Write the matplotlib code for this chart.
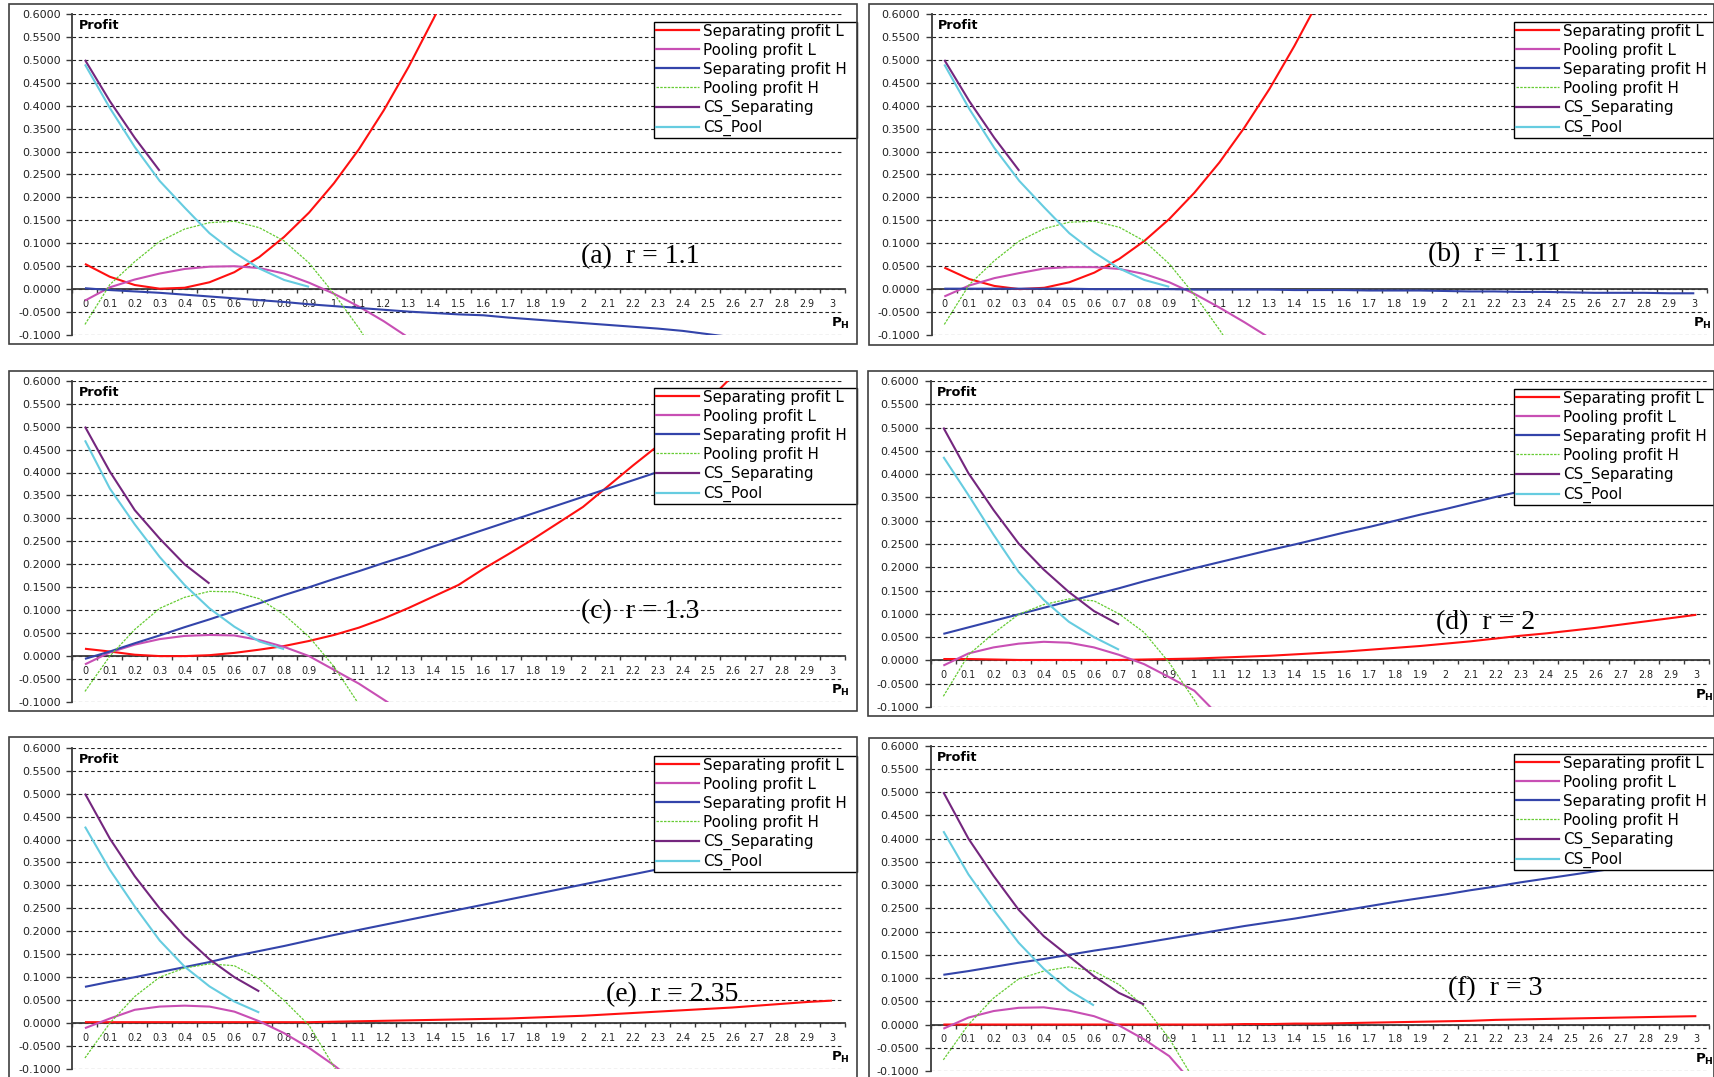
import numpy as np
import matplotlib
matplotlib.use("Agg")
import matplotlib.pyplot as plt
from matplotlib.patches import Rectangle
from matplotlib.lines import Line2D

plt.rcParams['font.family'] = ['DejaVu Sans']
plt.rcParams['axes.unicode_minus'] = False

# ---------------- data ----------------
ph_values = [0.0, 0.1, 0.2, 0.3, 0.4, 0.5, 0.6, 0.7, 0.8, 0.9, 1.0, 1.1, 1.2, 1.3, 1.4, 1.5,
             1.6, 1.7, 1.8, 1.9, 2.0, 2.1, 2.2, 2.3, 2.4, 2.5, 2.6, 2.7, 2.8, 2.9, 3.0]
y_tick_values = [-0.10, -0.05, 0.00, 0.05, 0.10, 0.15, 0.20, 0.25, 0.30, 0.35, 0.40, 0.45, 0.50, 0.55, 0.60]
series_names = ["Separating profit L", "Pooling profit L", "Separating profit H",
                "Pooling profit H", "CS_Separating", "CS_Pool"]
panel_labels = ["(a)  r = 1.1", "(b)  r = 1.11", "(c)  r = 1.3",
                "(d)  r = 2", "(e)  r = 2.35", "(f)  r = 3"]

# (a) r = 1.1
a_sep_L = [0.055, 0.027, 0.009, 0.001, 0.003, 0.015, 0.037, 0.070, 0.114, 0.167, 0.231, 0.305, 0.390, 0.485, 0.590, 0.700]
a_pool_L = [-0.025, 0.004, 0.021, 0.034, 0.044, 0.049, 0.050, 0.046, 0.034, 0.014, -0.010, -0.038, -0.070, -0.106]
a_sep_H = [0.002, -0.002, -0.005, -0.008, -0.012, -0.016, -0.020, -0.024, -0.028, -0.033, -0.037, -0.041, -0.045, -0.049,
           -0.052, -0.055, -0.057, -0.062, -0.066, -0.070, -0.074, -0.078, -0.082, -0.086, -0.091, -0.098, -0.105]
a_pool_H = [-0.077, 0.010, 0.060, 0.104, 0.131, 0.145, 0.148, 0.134, 0.105, 0.057, -0.010, -0.085, -0.170]
a_cs_sep = [0.500, 0.410, 0.330, 0.258]
a_cs_pool = [0.490, 0.395, 0.310, 0.236, 0.178, 0.122, 0.080, 0.045, 0.020, 0.005]

# (b) r = 1.11
b_sep_L = [0.047, 0.022, 0.007, 0.000, 0.003, 0.015, 0.036, 0.066, 0.105, 0.153, 0.210, 0.276, 0.352, 0.436, 0.530, 0.632]
b_pool_L = [-0.016, 0.008, 0.024, 0.035, 0.045, 0.048, 0.048, 0.044, 0.033, 0.015, -0.010, -0.040, -0.072, -0.106]
b_sep_H = [0.001, 0.001, 0.001, 0.001, 0.001, 0.001, 0.000, 0.000, 0.000, 0.000, -0.001, -0.001, -0.001, -0.001, -0.002,
           -0.002, -0.002, -0.003, -0.003, -0.003, -0.004, -0.005, -0.005, -0.006, -0.006, -0.007, -0.008, -0.008,
           -0.008, -0.009, -0.009]
b_pool_H = [-0.077, 0.010, 0.062, 0.105, 0.132, 0.146, 0.148, 0.135, 0.105, 0.055, -0.012, -0.088, -0.170]
b_cs_sep = [0.500, 0.410, 0.330, 0.258]
b_cs_pool = [0.490, 0.393, 0.308, 0.236, 0.178, 0.122, 0.080, 0.045, 0.020, 0.005]

# (c) r = 1.3
c_sep_L = [0.016, 0.010, 0.003, 0.000, 0.000, 0.002, 0.007, 0.014, 0.022, 0.033, 0.046, 0.062, 0.082, 0.105, 0.130,
           0.155, 0.190, 0.222, 0.255, 0.290, 0.325, 0.370, 0.415, 0.458, 0.505, 0.555, 0.610, 0.670]
c_pool_L = [-0.018, 0.008, 0.025, 0.037, 0.044, 0.046, 0.045, 0.035, 0.020, 0.000, -0.030, -0.060, -0.095, -0.130]
c_sep_H = [-0.006, 0.010, 0.028, 0.045, 0.063, 0.080, 0.098, 0.115, 0.133, 0.150, 0.168, 0.185, 0.203, 0.220, 0.239,
           0.257, 0.275, 0.293, 0.311, 0.329, 0.347, 0.365, 0.383, 0.401, 0.419, 0.437, 0.455, 0.473, 0.491, 0.509, 0.527]
c_pool_H = [-0.077, 0.000, 0.058, 0.104, 0.128, 0.141, 0.140, 0.125, 0.090, 0.042, -0.023, -0.105]
c_cs_sep = [0.500, 0.402, 0.318, 0.256, 0.200, 0.158]
c_cs_pool = [0.470, 0.365, 0.287, 0.216, 0.155, 0.104, 0.064, 0.032, 0.015]

# (d) r = 2
d_sep_L = [0.003, 0.003, 0.002, 0.001, 0.001, 0.001, 0.001, 0.001, 0.002, 0.003, 0.004, 0.006, 0.008, 0.010, 0.013,
           0.016, 0.019, 0.023, 0.027, 0.031, 0.036, 0.041, 0.047, 0.053, 0.058, 0.064, 0.070, 0.077, 0.084, 0.091, 0.098]
d_pool_L = [-0.011, 0.015, 0.028, 0.036, 0.040, 0.038, 0.028, 0.012, -0.008, -0.036, -0.065, -0.120]
d_sep_H = [0.057, 0.071, 0.085, 0.099, 0.113, 0.127, 0.141, 0.155, 0.170, 0.184, 0.198, 0.211, 0.224, 0.237, 0.249,
           0.262, 0.275, 0.287, 0.300, 0.313, 0.325, 0.338, 0.351, 0.363, 0.376, 0.389, 0.401, 0.414, 0.427, 0.439, 0.452]
d_pool_H = [-0.077, 0.012, 0.058, 0.099, 0.120, 0.132, 0.128, 0.100, 0.060, -0.005, -0.085, -0.180]
d_cs_sep = [0.500, 0.402, 0.323, 0.251, 0.195, 0.147, 0.106, 0.077]
d_cs_pool = [0.437, 0.355, 0.270, 0.190, 0.130, 0.083, 0.050, 0.023]

# (e) r = 2.35
e_sep_L = [0.002, 0.002, 0.002, 0.002, 0.002, 0.002, 0.002, 0.002, 0.002, 0.002, 0.003, 0.004, 0.005, 0.006, 0.007,
           0.008, 0.009, 0.010, 0.012, 0.014, 0.016, 0.019, 0.022, 0.025, 0.028, 0.031, 0.034, 0.038, 0.042, 0.046, 0.049]
e_pool_L = [-0.011, 0.010, 0.029, 0.036, 0.038, 0.036, 0.025, 0.004, -0.022, -0.054, -0.092, -0.135]
e_sep_H = [0.079, 0.090, 0.100, 0.111, 0.122, 0.133, 0.146, 0.157, 0.168, 0.180, 0.192, 0.203, 0.214, 0.225, 0.236,
           0.247, 0.258, 0.269, 0.280, 0.291, 0.302, 0.313, 0.324, 0.335, 0.346, 0.357, 0.368, 0.379, 0.390, 0.401, 0.412]
e_pool_H = [-0.076, 0.000, 0.058, 0.100, 0.120, 0.129, 0.125, 0.096, 0.049, -0.005, -0.095, -0.190]
e_cs_sep = [0.500, 0.402, 0.320, 0.250, 0.189, 0.139, 0.100, 0.069]
e_cs_pool = [0.428, 0.334, 0.254, 0.180, 0.123, 0.080, 0.047, 0.023]

# (f) r = 3
f_sep_L = [0.000, 0.000, 0.000, 0.000, 0.000, 0.000, 0.000, 0.000, 0.000, 0.000, 0.000, 0.000, 0.001, 0.001, 0.002,
           0.002, 0.003, 0.004, 0.005, 0.006, 0.007, 0.008, 0.010, 0.011, 0.012, 0.013, 0.014, 0.015, 0.016, 0.017, 0.018]
f_pool_L = [-0.009, 0.015, 0.029, 0.036, 0.037, 0.030, 0.018, -0.002, -0.032, -0.068, -0.130]
f_sep_H = [0.107, 0.115, 0.124, 0.133, 0.141, 0.150, 0.159, 0.167, 0.176, 0.185, 0.194, 0.203, 0.212, 0.220, 0.228,
           0.237, 0.246, 0.255, 0.264, 0.272, 0.280, 0.289, 0.297, 0.306, 0.314, 0.322, 0.330, 0.338, 0.346, 0.354, 0.362]
f_pool_H = [-0.076, 0.000, 0.057, 0.098, 0.115, 0.124, 0.115, 0.086, 0.039, -0.030, -0.120]
f_cs_sep = [0.500, 0.400, 0.320, 0.247, 0.190, 0.147, 0.104, 0.068, 0.043]
f_cs_pool = [0.416, 0.323, 0.247, 0.176, 0.120, 0.074, 0.041]

panel_series = [
    [a_sep_L, a_pool_L, a_sep_H, a_pool_H, a_cs_sep, a_cs_pool],
    [b_sep_L, b_pool_L, b_sep_H, b_pool_H, b_cs_sep, b_cs_pool],
    [c_sep_L, c_pool_L, c_sep_H, c_pool_H, c_cs_sep, c_cs_pool],
    [d_sep_L, d_pool_L, d_sep_H, d_pool_H, d_cs_sep, d_cs_pool],
    [e_sep_L, e_pool_L, e_sep_H, e_pool_H, e_cs_sep, e_cs_pool],
    [f_sep_L, f_pool_L, f_sep_H, f_pool_H, f_cs_sep, f_cs_pool],
]

# ---------------- styles / layout ----------------
styles = [
    dict(color='#FF1010', lw=1.5, ls='-'),
    dict(color='#C84FB4', lw=1.5, ls='-'),
    dict(color='#3344AA', lw=1.5, ls='-'),
    dict(color='#66CC33', lw=0.9, ls=(0, (2.0, 1.0))),
    dict(color='#74267E', lw=1.5, ls='-'),
    dict(color='#66CCE0', lw=1.5, ls='-'),
]

W, H = 1715, 1077
LEG_W = 203
# axes pixel box (left, right, top, bottom), frame box, legend top-left, label position (data)
layout = [
    dict(ax=(72.5, 844.5, 14, 335), frame=(9, 4, 857, 344), leg=(654, 22), lab=(2.23, 0.072)),
    dict(ax=(931.8, 1706.8, 14, 335), frame=(869, 4, 1714, 345), leg=(1514, 22), lab=(2.20, 0.075)),
    dict(ax=(72.5, 844.5, 380.7, 702), frame=(9, 371, 857, 711), leg=(654, 388), lab=(2.23, 0.096)),
    dict(ax=(930.8, 1708.9, 381, 707), frame=(868, 371, 1714, 716), leg=(1514, 389), lab=(2.16, 0.082)),
    dict(ax=(72.5, 844.5, 747.7, 1069), frame=(9, 737, 857, 1090), leg=(654, 756), lab=(2.36, 0.063)),
    dict(ax=(930.8, 1708.9, 745.7, 1071), frame=(869, 738, 1714, 1090), leg=(1514, 754), lab=(2.20, 0.077)),
]

fig = plt.figure(figsize=(W / 100, H / 100), dpi=100)
fig.patch.set_facecolor('white')

x_all = np.array(ph_values)
x_labels = [f"{v:g}" for v in ph_values]
y_labels = [f"{v:.4f}" for v in y_tick_values]
boundaries = np.concatenate([[x_all[0] - 0.05], (x_all[:-1] + x_all[1:]) / 2, [x_all[-1] + 0.05]])

for p, (series, lay, plabel) in enumerate(zip(panel_series, layout, panel_labels)):
    l, r, t, b = lay['ax']
    ax = fig.add_axes([l / W, 1 - b / H, (r - l) / W, (b - t) / H])
    ax.set_xlim(x_all[0] - 0.05, x_all[-1] + 0.05)
    ax.set_ylim(y_tick_values[0], y_tick_values[-1])
    ax.set_facecolor('none')

    for vals, st in zip(series, styles):
        n = len(vals)
        ax.plot(x_all[:n], np.array(vals, dtype=float), color=st['color'], lw=st['lw'],
                linestyle=st['ls'], solid_capstyle='butt', solid_joinstyle='round', zorder=3)

    # spines
    for s in ('top', 'right'):
        ax.spines[s].set_visible(False)
    ax.spines['left'].set_color('#3a3a3a')
    ax.spines['left'].set_linewidth(1.3)
    ax.spines['bottom'].set_position(('data', 0))
    ax.spines['bottom'].set_color('#3a3a3a')
    ax.spines['bottom'].set_linewidth(1.3)

    # y axis
    ax.set_yticks(y_tick_values)
    ax.set_yticklabels(y_labels, fontsize=8.0, color='#222222')
    ax.tick_params(axis='y', direction='out', length=4, width=1, pad=4.5, colors='#3a3a3a', labelcolor='#222222')
    ax.yaxis.grid(True, linestyle=(0, (3.2, 2.4)), color='#222222', lw=0.8, zorder=1)
    ax.set_axisbelow(True)

    # x axis (category style)
    ax.set_xticks(x_all)
    ax.set_xticklabels(x_labels, fontsize=6.9, color='#222222')
    ax.set_xticks(boundaries, minor=True)
    ax.tick_params(axis='x', which='major', length=0, pad=7.0)
    ax.tick_params(axis='x', which='minor', direction='out', length=3, width=1, colors='#3a3a3a')

    # texts
    ax.text(0.008, 0.985, 'Profit', transform=ax.transAxes, fontsize=9.2, fontweight='bold',
            ha='left', va='top')
    ax.text(x_all[-1] - 0.005, -0.083, r'$\mathbf{P}_{\mathbf{H}}$', fontsize=9.5, ha='left', va='baseline')
    ax.text(lay['lab'][0], lay['lab'][1], plabel, fontsize=20, ha='center', va='center',
            family=['Liberation Serif', 'DejaVu Serif'], zorder=4)

    # legend
    handles = [Line2D([0], [0], color=st['color'], lw=(1.6 if st['lw'] > 1 else 0.9),
                      linestyle=st['ls']) for st in styles]
    lx, ly = lay['leg']
    leg = ax.legend(handles, series_names, loc='upper left',
                    bbox_to_anchor=(lx / W, 1 - ly / H - 0.2, LEG_W / W, 0.2), mode='expand',
                    bbox_transform=fig.transFigure, borderaxespad=0, frameon=True, fancybox=False,
                    edgecolor='black', framealpha=1, fontsize=10.9, handlelength=2.85,
                    handletextpad=0.3, labelspacing=0.27, borderpad=0.1)
    leg.get_frame().set_linewidth(1.0)
    leg.set_zorder(10)

    # outer frame of the panel
    fx0, fy0, fx1, fy1 = lay['frame']
    fig.add_artist(Rectangle((fx0 / W, 1 - fy1 / H), (fx1 - fx0) / W, (fy1 - fy0) / H,
                             transform=fig.transFigure, fill=False, edgecolor='#404040', lw=1.2))

fig.savefig('out.png', dpi=100, facecolor='white')
